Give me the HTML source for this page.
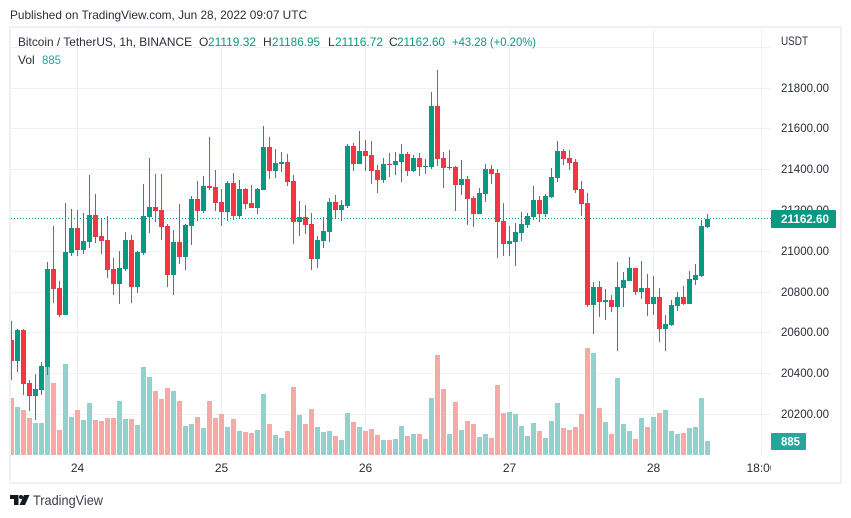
<!DOCTYPE html>
<html lang="en">
<head>
<meta charset="utf-8">
<title>Bitcoin / TetherUS chart</title>
<style>
html,body{margin:0;padding:0;background:#fff;width:851px;height:518px;overflow:hidden}
svg{display:block;font-family:"Liberation Sans",sans-serif}
</style>
</head>
<body>
<svg id="chart" xmlns="http://www.w3.org/2000/svg" width="851" height="518" viewBox="0 0 851 518">
  <defs>
    <clipPath id="plot-clip"><rect x="11" y="28" width="760" height="427"></rect></clipPath>
    <clipPath id="time-clip"><rect x="11" y="455" width="760" height="27"></rect></clipPath>
  </defs>
  <rect x="0" y="0" width="851" height="518" fill="#ffffff"></rect>
  <text x="10" y="19" font-size="12" fill="#2a2e39" textLength="297" lengthAdjust="spacingAndGlyphs">Published on TradingView.com, Jun 28, 2022 09:07 UTC</text>
  <rect x="10" y="27" width="831" height="456" fill="none" stroke="#f0f1f7" stroke-width="2"></rect>

  <g id="grid" shape-rendering="crispEdges"></g>
  <g id="volume" clip-path="url(#plot-clip)" shape-rendering="crispEdges"></g>
  <g id="candles" clip-path="url(#plot-clip)" shape-rendering="crispEdges"></g>
  <line id="last-line" x1="11" x2="771" stroke="#089981" stroke-width="1" stroke-dasharray="1 2" shape-rendering="crispEdges"></line>

  <g font-size="12">
    <text x="18" y="46" fill="#2a2e39" textLength="174" lengthAdjust="spacingAndGlyphs">Bitcoin / TetherUS, 1h, BINANCE</text>
    <text x="199" y="46" fill="#2a2e39">O</text>
    <text x="208" y="46" fill="#089981" textLength="48" lengthAdjust="spacingAndGlyphs">21119.32</text>
    <text x="263" y="46" fill="#2a2e39">H</text>
    <text x="272" y="46" fill="#089981" textLength="48" lengthAdjust="spacingAndGlyphs">21186.95</text>
    <text x="328" y="46" fill="#2a2e39">L</text>
    <text x="335" y="46" fill="#089981" textLength="48" lengthAdjust="spacingAndGlyphs">21116.72</text>
    <text x="389" y="46" fill="#2a2e39">C</text>
    <text x="397" y="46" fill="#089981" textLength="48" lengthAdjust="spacingAndGlyphs">21162.60</text>
    <text x="452" y="46" fill="#089981" textLength="84" lengthAdjust="spacingAndGlyphs">+43.28 (+0.20%)</text>
    <text x="18" y="64" fill="#2a2e39">Vol</text>
    <text x="42" y="64" fill="#26a69a" textLength="19" lengthAdjust="spacingAndGlyphs">885</text>
  </g>

  <g id="price-axis" font-size="12" fill="#2a2e39"></g>
  <rect x="771" y="28" width="68" height="23" fill="#ffffff"></rect>
  <text x="781" y="45" font-size="12" fill="#2a2e39" textLength="27" lengthAdjust="spacingAndGlyphs">USDT</text>
  <g id="time-axis" font-size="12" fill="#2a2e39" clip-path="url(#time-clip)"></g>

  <rect id="last-tag" x="771" width="65" height="18" rx="1" fill="#089981"></rect>
  <text id="last-text" x="781" font-size="12" font-weight="bold" fill="#ffffff" textLength="48" lengthAdjust="spacingAndGlyphs"></text>
  <rect id="vol-tag" x="771" width="35" height="17" rx="1" fill="#26a69a"></rect>
  <text id="vol-text" x="781" font-size="12" font-weight="bold" fill="#ffffff" textLength="19" lengthAdjust="spacingAndGlyphs"></text>

  <g>
    <path d="M10 495H18.5V505H14V499H10ZM19.5 505L24 495H29.5L25 505Z" fill="#131722"></path>
    <circle cx="21" cy="497" r="2" fill="#131722"></circle>
    <text x="33" y="505" font-size="14" fill="#3a3e49" textLength="70" lengthAdjust="spacingAndGlyphs">TradingView</text>
  </g>
</svg>

<script>
const openPrices = [
20569,20463,20618,20359,20291,20325,20437,20917,20824,20692,
20995,21117,21010,21049,21181,21078,21058,20917,20843,20917,
21058,20829,20995,21171,21220,21205,21127,20887,21049,20975,
21127,21259,21200,21322,21318,21244,21195,21337,21176,21308,
21239,21215,21303,21513,21396,21430,21440,21347,21146,21171,
21137,20966,21054,21098,21244,21205,21225,21518,21430,21494,
21474,21401,21352,21430,21425,21440,21479,21396,21459,21415,
21415,21714,21459,21410,21415,21327,21357,21264,21186,21283,
21406,21386,21151,21039,21049,21093,21132,21171,21254,21186,
21269,21362,21494,21459,21440,21308,21239,20741,20829,20755,
20765,20731,20824,20858,20921,20804,20824,20745,20780,20623,
20643,20736,20780,20745,20863,20882,21119.32];
const highPrices = [
20662,20623,20623,20374,20403,20462,20951,21127,20858,21239,
21210,21205,21190,21376,21283,21161,21176,20970,21005,21098,
21083,21005,21332,21459,21381,21381,21137,21107,21234,21137,
21274,21347,21371,21562,21401,21308,21347,21386,21352,21313,
21327,21313,21616,21562,21503,21489,21479,21376,21249,21230,
21190,21078,21171,21264,21278,21254,21528,21533,21591,21547,
21542,21425,21459,21484,21489,21528,21489,21474,21484,21455,
21782,21890,21489,21498,21420,21450,21371,21274,21313,21430,
21425,21406,21239,21127,21141,21195,21190,21322,21274,21283,
21410,21542,21503,21498,21455,21347,21288,20853,20858,20819,
20789,20951,20902,20975,20921,20956,20892,20882,20824,20692,
20765,20804,20833,20907,20941,21156,21186.95];
const lowPrices = [
20374,20410,20296,20222,20178,20296,20398,20750,20682,20692,
20980,20980,20990,21019,21044,20990,20873,20789,20745,20907,
20750,20799,20985,21093,21146,21058,20829,20789,20941,20912,
21034,21151,21190,21303,21200,21127,21151,21156,21161,21210,
21215,21186,21303,21357,21362,21391,21322,21039,21078,21088,
20912,20921,21019,21049,21161,21151,21215,21396,21430,21396,
21332,21288,21337,21366,21376,21342,21371,21391,21371,21381,
21406,21420,21313,21401,21200,21278,21132,21122,21186,21244,
21332,20970,20980,20980,20931,21054,21117,21156,21146,21171,
21264,21342,21425,21401,21288,21176,20731,20599,20682,20667,
20706,20516,20731,20858,20789,20770,20687,20692,20560,20516,
20638,20711,20741,20745,20838,20877,21116.72];
const closePrices = [
20463,20618,20354,20291,20330,20442,20917,20819,20692,21000,
21117,21010,21054,21181,21073,21054,20912,20843,20921,21058,
20829,21000,21176,21220,21200,21122,20887,21049,20975,21132,
21259,21200,21322,21313,21239,21195,21337,21176,21308,21234,
21215,21308,21513,21396,21435,21440,21342,21146,21171,21132,
20966,21058,21102,21244,21205,21230,21518,21430,21494,21469,
21396,21352,21430,21425,21445,21479,21396,21459,21415,21420,
21714,21455,21410,21415,21327,21357,21259,21186,21288,21406,
21381,21146,21039,21054,21098,21137,21176,21254,21186,21274,
21366,21494,21455,21435,21303,21234,20741,20829,20755,20765,
20731,20829,20863,20921,20804,20824,20745,20780,20623,20648,
20741,20780,20745,20868,20887,21127,21162.6];
const volumes = [
3602,3034,2844,2338,2022,2022,5814,4550,1580,5751,
2402,2844,2212,3286,2212,2149,2338,2338,3413,2275,
2275,1896,5562,4930,4045,3539,4234,4045,3413,1833,
1959,2402,1706,3413,2338,2591,1770,2275,1517,1454,
1390,1580,3855,1959,1264,1074,1517,4298,2528,1959,
2907,1770,1454,1517,1201,948,2654,2086,1770,1517,
1643,1264,948,948,1011,1833,1201,1327,1327,1011,
3602,6320,4171,1327,3350,1580,2149,1959,1138,1327,
1074,4424,2654,2718,2591,1833,1201,2022,1517,1074,
2149,3286,1706,1580,1770,2591,6762,6446,2970,2086,
1327,4866,1959,1517,1011,2338,1770,2402,2654,2844,
1517,1327,1390,1706,1770,3602,885];
const priceTicks = [22000,21800,21600,21400,21200,21000,20800,20600,20400,20200];
const timeTickBars = [11,35,59,83,107,125];
const timeTickLabels = ['24','25','26','27','28','18:00'];

const SVG_NS = 'http://www.w3.org/2000/svg';
const UP = '#089981', DOWN = '#f23645';
const UP_VOL = '#92d2cc', DOWN_VOL = '#f7a9a7';
const GRID = '#f0f1f6';
const VOL_BASE = 455;
function priceY(p){ return 88.5 + (21800 - p) / 4.9; }
function volY(v){ return VOL_BASE - v / 63.2; }
function barX(i){ return 11 + 6 * i; }
function mk(tag, parent){ const e = document.createElementNS(SVG_NS, tag); parent.appendChild(e); return e; }
function setRect(e, x, y, w, h, fill){
  e.setAttribute('x', x); e.setAttribute('y', y);
  e.setAttribute('width', w); e.setAttribute('height', h);
  e.setAttribute('fill', fill);
}

const gridG = document.getElementById('grid');
const volG = document.getElementById('volume');
const candleG = document.getElementById('candles');
const priceG = document.getElementById('price-axis');
const timeG = document.getElementById('time-axis');

priceTicks.forEach(function(p){
  const y = Math.floor(priceY(p) - 0.45);
  const line = mk('rect', gridG);
  
  
  setRect(line, 11, y, 760, 1, GRID);
  const label = mk('text', priceG);
  
  
  label.setAttribute('x', 781);
  label.setAttribute('y', y + 4);
  label.setAttribute('textLength', 48);
  label.setAttribute('lengthAdjust', 'spacingAndGlyphs');
  label.textContent = p.toFixed(2);
});

timeTickBars.forEach(function(b, i){
  const line = mk('rect', gridG);
  
  
  setRect(line, barX(b), 28, 1, VOL_BASE - 28, GRID);
  const label = mk('text', timeG);
  
  
  label.setAttribute('x', barX(b) + 0.5);
  label.setAttribute('y', 472);
  label.setAttribute('text-anchor', 'middle');
  label.textContent = timeTickLabels[i];
});

volumes.forEach(function(v, i){
  const up = closePrices[i] >= openPrices[i];
  const top = Math.round(volY(v));
  const bar = mk('rect', volG);
  
  
  setRect(bar, barX(i) - 2, top, 5, VOL_BASE - top, up ? UP_VOL : DOWN_VOL);
});

openPrices.forEach(function(o, i){
  const c = closePrices[i];
  const up = c >= o;
  const color = up ? UP : DOWN;
  const wickTop = Math.round(priceY(highPrices[i]));
  const wickBottom = Math.round(priceY(lowPrices[i]));
  const bodyTop = Math.round(priceY(Math.max(o, c)));
  const bodyBottom = Math.round(priceY(Math.min(o, c)));
  const wick = mk('rect', candleG);
  
  
  setRect(wick, barX(i), wickTop, 1, Math.max(1, wickBottom - wickTop), color);
  const body = mk('rect', candleG);
  
  
  setRect(body, barX(i) - 2, bodyTop, 5, Math.max(1, bodyBottom - bodyTop), color);
});

const lastClose = closePrices[closePrices.length - 1];
const lastVolume = volumes[volumes.length - 1];
const lastY = Math.floor(priceY(lastClose));
const lastLine = document.getElementById('last-line');
lastLine.setAttribute('y1', lastY + 0.5);
lastLine.setAttribute('y2', lastY + 0.5);
document.getElementById('last-tag').setAttribute('y', lastY - 8);
const lastText = document.getElementById('last-text');
lastText.setAttribute('y', lastY + 5);
lastText.textContent = lastClose.toFixed(2);
const volTagY = Math.round(volY(lastVolume));
document.getElementById('vol-tag').setAttribute('y', volTagY - 8);
const volText = document.getElementById('vol-text');
volText.setAttribute('y', volTagY + 4.5);
volText.textContent = String(lastVolume);
</script>
</body>
</html>
